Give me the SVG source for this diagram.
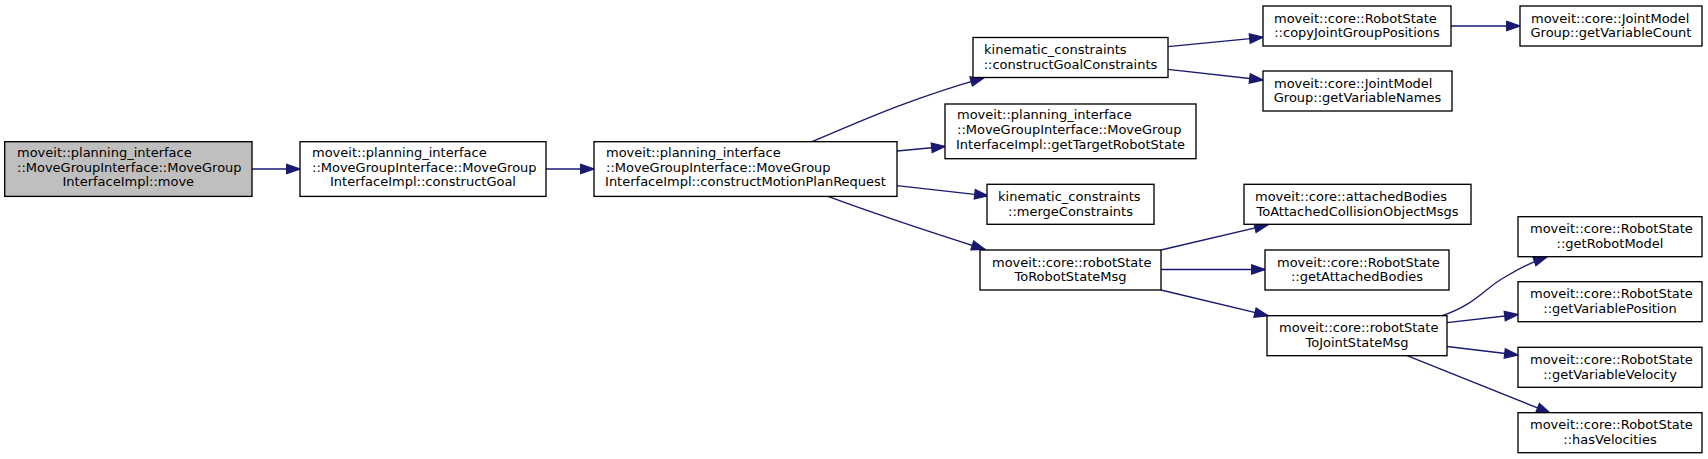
<svg xmlns="http://www.w3.org/2000/svg" width="1708" height="459" viewBox="0 0 1708 459">
<style>
.n rect{fill:#ffffff;stroke:#000000;stroke-width:1.33}
.root rect{fill:#bfbfbf}
.n text{font-family:"DejaVu Sans","Liberation Sans",sans-serif;font-size:13px;fill:#000000}
.m{text-anchor:middle}
.e path{fill:none;stroke:#191970;stroke-width:1.33;marker-end:url(#ah)}
</style>
<defs>
<marker id="ah" markerUnits="userSpaceOnUse" markerWidth="16" markerHeight="12" refX="13.3" refY="0" viewBox="-1 -6 16 12" orient="auto" overflow="visible">
<path d="M0,-4.67 L13.3,0 L0,4.67 Z" fill="#191970" stroke="#191970" stroke-width="1.33"/>
</marker>
</defs>
<rect width="1708" height="459" fill="#ffffff"/>
<g id="edges" class="e">
<path d="M252,169 L300,169"/>
<path d="M546,169 L594,169"/>
<path d="M812,141.7 C850,126 905,100 984,77.8"/>
<path d="M897,151 L945,146.5"/>
<path d="M897,185.7 L988,195.8"/>
<path d="M828,196.4 C870,212 930,232 985,249.5"/>
<path d="M1168,46.7 L1263,37.3"/>
<path d="M1168,69.3 L1263,80"/>
<path d="M1451,26 L1520,26"/>
<path d="M1161,250 L1268,224.8"/>
<path d="M1161,269.5 L1265,269.5"/>
<path d="M1161,290 L1268,315.7"/>
<path d="M1442,315.7 C1475,305 1485,288 1505,277 C1520,268 1532,262 1547,256.9"/>
<path d="M1447,322.7 L1518,314.5"/>
<path d="M1447,346.5 L1518,355"/>
<path d="M1407,355.7 L1550,412.9"/>
</g>
<g id="node1" class="n root">
<rect x="4.7" y="141.7" width="247.3" height="54.7"/>
<text x="17" y="156.8">moveit::planning_interface</text>
<text x="17" y="171.5">::MoveGroupInterface::MoveGroup</text>
<text class="m" x="128.3" y="186.2">InterfaceImpl::move</text>
</g>
<g id="node2" class="n">
<rect x="300" y="141.7" width="246" height="54.7"/>
<text x="312" y="156.8">moveit::planning_interface</text>
<text x="312" y="171.5">::MoveGroupInterface::MoveGroup</text>
<text class="m" x="423" y="186.2">InterfaceImpl::constructGoal</text>
</g>
<g id="node3" class="n">
<rect x="594" y="141.7" width="303" height="54.7"/>
<text x="606" y="156.8">moveit::planning_interface</text>
<text x="606" y="171.5">::MoveGroupInterface::MoveGroup</text>
<text class="m" x="745.5" y="186.2">InterfaceImpl::constructMotionPlanRequest</text>
</g>
<g id="node4" class="n">
<rect x="973" y="37.5" width="195" height="40"/>
<text x="984" y="54">kinematic_constraints</text>
<text class="m" x="1070.5" y="68.7">::constructGoalConstraints</text>
</g>
<g id="node5" class="n">
<rect x="945" y="104" width="251" height="54.7"/>
<text x="957" y="119.2">moveit::planning_interface</text>
<text x="957" y="133.9">::MoveGroupInterface::MoveGroup</text>
<text class="m" x="1070.5" y="148.6">InterfaceImpl::getTargetRobotState</text>
</g>
<g id="node6" class="n">
<rect x="987" y="184.3" width="167" height="40"/>
<text x="998" y="200.8">kinematic_constraints</text>
<text class="m" x="1070.5" y="215.5">::mergeConstraints</text>
</g>
<g id="node7" class="n">
<rect x="980" y="250" width="181" height="40"/>
<text x="992" y="266.5">moveit::core::robotState</text>
<text class="m" x="1070.5" y="281.2">ToRobotStateMsg</text>
</g>
<g id="node8" class="n">
<rect x="1263" y="6" width="188" height="40"/>
<text x="1274" y="22.5">moveit::core::RobotState</text>
<text class="m" x="1357" y="37.2">::copyJointGroupPositions</text>
</g>
<g id="node9" class="n">
<rect x="1263" y="71" width="189" height="40"/>
<text x="1274" y="87.5">moveit::core::JointModel</text>
<text class="m" x="1357.5" y="102.2">Group::getVariableNames</text>
</g>
<g id="node10" class="n">
<rect x="1520" y="6" width="182" height="40"/>
<text x="1531" y="22.5">moveit::core::JointModel</text>
<text class="m" x="1611" y="37.2">Group::getVariableCount</text>
</g>
<g id="node11" class="n">
<rect x="1244" y="184.3" width="227" height="40"/>
<text x="1255" y="200.8">moveit::core::attachedBodies</text>
<text class="m" x="1357.5" y="215.5">ToAttachedCollisionObjectMsgs</text>
</g>
<g id="node12" class="n">
<rect x="1265" y="250" width="184" height="40"/>
<text x="1277" y="266.5">moveit::core::RobotState</text>
<text class="m" x="1357" y="281.2">::getAttachedBodies</text>
</g>
<g id="node13" class="n">
<rect x="1267" y="315.7" width="180" height="40"/>
<text x="1279" y="332.2">moveit::core::robotState</text>
<text class="m" x="1357" y="346.9">ToJointStateMsg</text>
</g>
<g id="node14" class="n">
<rect x="1518" y="216.7" width="184" height="40"/>
<text x="1530" y="233.2">moveit::core::RobotState</text>
<text class="m" x="1610" y="247.9">::getRobotModel</text>
</g>
<g id="node15" class="n">
<rect x="1518" y="281.7" width="184" height="40"/>
<text x="1530" y="298.2">moveit::core::RobotState</text>
<text class="m" x="1610" y="312.9">::getVariablePosition</text>
</g>
<g id="node16" class="n">
<rect x="1518" y="347.3" width="184" height="40"/>
<text x="1530" y="363.8">moveit::core::RobotState</text>
<text class="m" x="1610" y="378.5">::getVariableVelocity</text>
</g>
<g id="node17" class="n">
<rect x="1518" y="412.7" width="184" height="40"/>
<text x="1530" y="429.2">moveit::core::RobotState</text>
<text class="m" x="1610" y="443.9">::hasVelocities</text>
</g>
</svg>
